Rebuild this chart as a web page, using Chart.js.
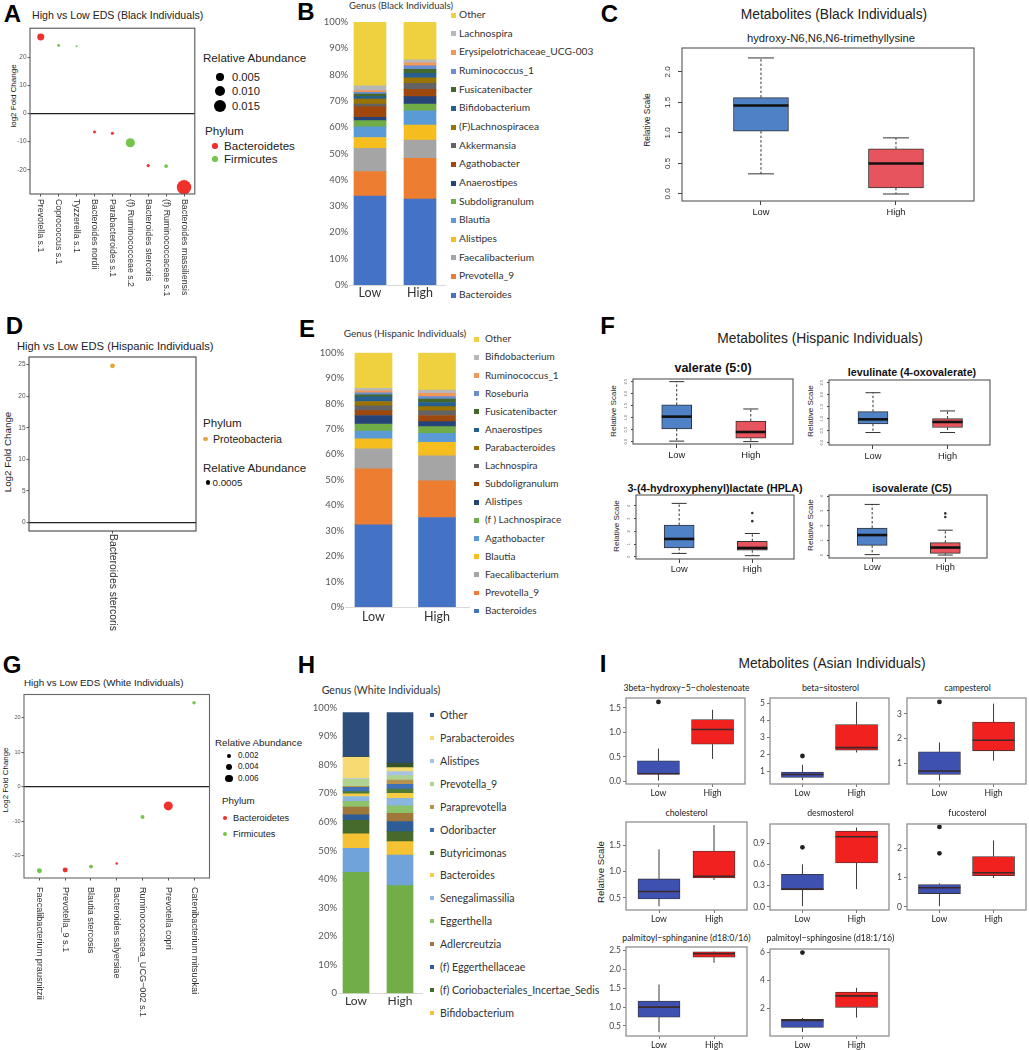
<!DOCTYPE html>
<html>
<head>
<meta charset="utf-8">
<script src="https://cdn.jsdelivr.net/npm/chart.js@4.4.1/dist/chart.umd.min.js"></script>
<style>
  body { margin: 0; background: #fff; }
  #page { position: relative; width: 1029px; height: 1050px; overflow: hidden; background: #fff;
          font-family: "Liberation Sans", Arial, sans-serif; }
  .abs { position: absolute; white-space: nowrap; line-height: 1.15; }
  canvas { position: absolute; }
</style>
</head>
<body>
<div id="page"></div>
<script>
// ---------- data ----------
const groups = ['Low', 'High'];

// A: High vs Low EDS, Black individuals
const aTaxa = ['Prevotella s.1', 'Coprococcus s.1', 'Tyzzerella s.1', 'Bacteroides nordii', 'Parabacteroides s.1',
  '(f) Ruminococceae s.2', 'Bacteroides stercoris', '(f) Ruminococcaceae s.1', 'Bacteroides massiliensis'];
const aLog2FC = [27.2, 24.2, 23.9, -6.6, -7.0, -10.4, -18.5, -18.7, -26.2];
const aAbund = [0.0045, 0.0008, 0.0004, 0.0008, 0.0009, 0.0078, 0.0009, 0.0012, 0.0192];
const aPhylum = ['Bacteroidetes', 'Firmicutes', 'Firmicutes', 'Bacteroidetes', 'Bacteroidetes',
  'Firmicutes', 'Bacteroidetes', 'Firmicutes', 'Bacteroidetes'];
const aYTicks = ['-20', '-10', '0', '10', '20'];
const aSizeBreaks = ['0.005', '0.010', '0.015'];

// D: Hispanic individuals
const dTaxa = ['Bacteroides stercoris'];
const dLog2FC = [24.8];
const dAbund = [0.0005];
const dPhylum = ['Proteobacteria'];
const dYTicks = ['0', '5', '10', '15', '20', '25'];
const dSizeBreaks = ['0.0005'];

// G: White individuals
const gTaxa = ['Faecalibacterium prausnitzii', 'Prevotella_9 s.1', 'Blautia stercosis', 'Bacteroides salyersiae',
  'Ruminococcacea_UCG\u2212002 s.1', 'Prevotella copri', 'Catenibacterium mitsuokai'];
const gLog2FC = [-24.3, -24.1, -23.1, -22.2, -8.7, -5.5, 24.4];
const gAbund = [0.0027, 0.0027, 0.0017, 0.0007, 0.0017, 0.0088, 0.0013];
const gPhylum = ['Firmicutes', 'Bacteroidetes', 'Firmicutes', 'Bacteroidetes', 'Firmicutes', 'Bacteroidetes', 'Firmicutes'];
const gYTicks = ['-20', '-10', '0', '10', '20'];
const gSizeBreaks = ['0.002', '0.004', '0.006'];

// B: genus composition, Black individuals (bottom -> top, %)
const bGenus = ['Bacteroides', 'Prevotella_9', 'Faecalibacterium', 'Alistipes', 'Blautia', 'Subdoligranulum',
  'Anaerostipes', 'Agathobacter', 'Akkermansia', '(F)Lachnospiracea', 'Bifidobacterium', 'Fusicatenibacter',
  'Ruminococcus_1', 'Erysipelotrichaceae_UCG-003', 'Lachnospira', 'Other'];
const bLow  = [33.8, 9.3, 8.9, 4.1, 4.0, 2.4, 1.3, 4.0, 1.0, 1.9, 0.9, 1.0, 0.7, 0.6, 1.8, 24.3];
const bHigh = [32.7, 15.5, 6.9, 5.7, 5.4, 2.6, 2.8, 2.8, 2.3, 2.1, 1.7, 1.5, 1.3, 1.2, 1.1, 14.4];

// E: genus composition, Hispanic individuals
const eGenus = ['Bacteroides', 'Prevotella_9', 'Faecalibacterium', 'Blautia', 'Agathobacter', '(f ) Lachnospirace',
  'Alistipes', 'Subdoligranulum', 'Lachnospira', 'Parabacteroides', 'Anaerostipes', 'Fusicatenibacter',
  'Roseburia', 'Ruminococcus_1', 'Bifidobacterium', 'Other'];
const eLow  = [32.3, 22.0, 7.9, 3.9, 3.1, 2.7, 3.4, 1.9, 1.9, 1.7, 1.8, 0.8, 0.8, 0.8, 1.0, 14.0];
const eHigh = [35.2, 14.4, 9.8, 5.4, 3.5, 2.6, 2.0, 2.4, 1.8, 1.7, 1.6, 1.4, 0.9, 1.3, 1.3, 14.7];

// H: genus composition, White individuals ('' = not named in the legend)
const hGenus = ['', '', 'Bifidobacterium', '(f) Coriobacteriales_Incertae_Sedis', '(f) Eggerthellaceae', 'Adlercreutzia',
  'Eggerthella', 'Senegalimassilia', 'Bacteroides', 'Butyricimonas', 'Odoribacter', 'Paraprevotella',
  'Prevotella_9', 'Alistipes', 'Parabacteroides', '', 'Other'];
const hLow  = [42.4, 8.4, 5.0, 4.8, 1.9, 2.7, 2.0, 1.7, 0.9, 0.8, 1.5, 0.4, 2.4, 0.3, 7.4, 0.2, 15.5];
const hHigh = [37.7, 10.7, 4.7, 3.5, 3.5, 2.9, 2.6, 2.7, 1.7, 1.5, 1.7, 1.5, 1.5, 1.4, 1.4, 1.5, 17.8];

const pctTicks = ['0%', '10%', '20%', '30%', '40%', '50%', '60%', '70%', '80%', '90%', '100%'];
const hPctTicks = ['0', '10%', '20%', '30%', '40%', '50%', '60%', '70%', '80%', '90%', '100%'];

// C: box stats [min, q1, median, q3, max]
const cName = 'hydroxy-N6,N6,N6-trimethyllysine';
const cLow  = [0.33, 1.03, 1.45, 1.58, 2.23];
const cHigh = [0.00, 0.10, 0.50, 0.74, 0.92];
const cYTicks = ['0.0', '0.5', '1.0', '1.5', '2.0'];

// F: Hispanic metabolites
const fNames = ['valerate (5:0)', 'levulinate (4-oxovalerate)', '3-(4-hydroxyphenyl)lactate (HPLA)', 'isovalerate (C5)'];
const fLow  = [[0.02, 0.53, 1.04, 1.53, 2.50], [0.42, 0.78, 0.97, 1.29, 2.08],
               [0.26, 0.69, 1.40, 2.50, 4.20], [0.03, 0.66, 1.36, 1.84, 3.44]];
const fHigh = [[0.00, 0.14, 0.40, 0.86, 1.36], [0.42, 0.63, 0.86, 1.00, 1.32],
               [0.08, 0.51, 0.69, 1.22, 1.83], [0.00, 0.11, 0.51, 0.84, 1.69]];
const fOutHigh = [[], [], [3.44, 2.80], [2.83, 2.59]];
const fYTicks = [['0.0', '0.5', '1.0', '1.5', '2.0', '2.5'], ['0.0', '0.5', '1.0', '1.5', '2.0', '2.5'],
                 ['0', '1', '2', '3', '4'], ['0', '1', '2', '3', '4']];

// I: Asian metabolites
const iNames = ['3beta\u2212hydroxy\u22125\u2212cholestenoate', 'beta\u2212sitosterol', 'campesterol', 'cholesterol',
  'desmosterol', 'fucosterol', 'palmitoyl\u2212sphinganine (d18:0/16)', 'palmitoyl\u2212sphingosine (d18:1/16)'];
const iLow  = [[0.02, 0.15, 0.16, 0.42, 0.67], [0.46, 0.62, 0.79, 0.94, 1.37], [0.29, 0.54, 0.68, 1.46, 1.84],
               [0.34, 0.48, 0.62, 0.86, 1.42], [0.01, 0.24, 0.25, 0.46, 0.60], [0.02, 0.45, 0.65, 0.76, 0.80],
               [0.33, 0.73, 1.00, 1.16, 1.60], [0.30, 0.62, 1.13, 1.20, 1.30]];
const iHigh = [[0.46, 0.76, 1.06, 1.26, 1.46], [2.10, 2.24, 2.39, 3.75, 5.10], [1.10, 1.50, 1.93, 2.67, 3.42],
               [0.84, 0.88, 0.91, 1.39, 1.88], [0.25, 0.62, 0.99, 1.07, 1.12], [0.98, 1.06, 1.16, 1.71, 2.26],
               [2.18, 2.33, 2.42, 2.47, 2.48], [1.33, 2.07, 2.89, 3.17, 3.47]];
const iOutLow = [[1.62], [1.89], [3.49], [], [0.84], [1.82, 2.72], [], [6.0]];
const iYTicks = [['0.0', '0.5', '1.0', '1.5'], ['1', '2', '3', '4', '5'], ['1', '2', '3'], ['0.5', '1.0', '1.5'],
                 ['0.0', '0.3', '0.6', '0.9'], ['0', '1', '2'], ['0.5', '1.0', '1.5', '2.0', '2.5'], ['2', '4', '6']];

// ---------- styles ----------
const phylumColors = { Bacteroidetes: '#F0302A', Firmicutes: '#74C54B', Proteobacteria: '#E9A33C' };
const officeColors = ['#4472C4', '#ED7D31', '#A5A5A5', '#F5BE1E', '#5B9BD5', '#70AD47', '#264478', '#9E480E',
  '#636363', '#997300', '#255E91', '#43682B', '#698ED0', '#F1975A', '#B7B7B7', '#EFD03E'];
const whiteColors = ['#72AE48', '#6FA3D9', '#F4C233', '#46692C', '#2E5C96', '#A0773A', '#8DC26A', '#8BB6E0',
  '#F6CD45', '#4E7A35', '#3F72B5', '#B8924F', '#AED392', '#A9C4E3', '#F5DB72', '#34532A', '#2D4E7C'];

Chart.defaults.font.family = '"Liberation Sans", Arial, sans-serif';
Chart.defaults.animation = false;
Chart.defaults.plugins.legend.display = false;
Chart.defaults.plugins.tooltip.enabled = false;

const page = document.getElementById('page');

function canvasAt(x, y, w, h) {
  const c = document.createElement('canvas');
  c.width = w; c.height = h;
  c.style.left = x + 'px'; c.style.top = y + 'px';
  c.style.width = w + 'px'; c.style.height = h + 'px';
  page.appendChild(c);
  return c;
}

function text(str, x, y, opt) {
  const o = Object.assign({ size: 10, anchor: 'left', rot: 0, color: '#222', weight: 'normal', family: null }, opt);
  const d = document.createElement('div');
  d.className = 'abs';
  d.textContent = str;
  d.style.fontSize = o.size + 'px';
  d.style.color = o.color;
  d.style.fontWeight = o.weight;
  if (o.family) d.style.fontFamily = o.family;
  d.style.left = x + 'px'; d.style.top = y + 'px';
  const tx = o.anchor === 'center' ? '-50%' : o.anchor === 'right' ? '-100%' : '0';
  d.style.transform = `translate(${tx}, -50%)` + (o.rot ? ` rotate(${o.rot}deg)` : '');
  page.appendChild(d);
}

function dot(x, y, r, color) {
  const d = document.createElement('div');
  d.style.cssText = `position:absolute;left:${x - r}px;top:${y - r}px;width:${2 * r}px;height:${2 * r}px;border-radius:50%;background:${color}`;
  page.appendChild(d);
}

function square(x, y, s, color) {
  const d = document.createElement('div');
  d.style.cssText = `position:absolute;left:${x}px;top:${y - s / 2}px;width:${s}px;height:${s}px;background:${color}`;
  page.appendChild(d);
}

function fixY(w) { return s => { s.width = w; s.paddingTop = 0; s.paddingBottom = 0; }; }
function fixX(h) { return s => { s.height = h; s.paddingLeft = 0; s.paddingRight = 0; }; }

function framePlugin(color, width) {
  return {
    id: 'frame',
    afterDatasetsDraw(chart) {
      const a = chart.chartArea, c = chart.ctx;
      c.save();
      c.strokeStyle = color; c.lineWidth = width;
      c.strokeRect(a.left, a.top, a.right - a.left, a.bottom - a.top);
      c.restore();
    }
  };
}

// ---------- bubble panels (A, D, G) ----------
function bubblePanel(o) {
  const n = o.taxa.length;
  const cv = canvasAt(o.cx, o.area.t - 2, o.area.r - o.cx + 2, o.cb - o.area.t + 2);
  const phyla = [...new Set(o.phylum)];
  const datasets = phyla.map(p => ({
    label: p,
    data: o.taxa.map((t, i) => ({ x: i, y: o.fold[i], r: o.radius(o.abund[i]), p: o.phylum[i] }))
      .filter(d => d.p === p),
    backgroundColor: phylumColors[p],
    borderWidth: 0
  }));
  const labels = {
    id: 'rotLabels',
    afterDraw(chart) {
      const c = chart.ctx, xs = chart.scales.x, b = chart.chartArea.bottom;
      c.save();
      c.font = `${o.labelSize}px "Liberation Sans", Arial`;
      c.fillStyle = '#333'; c.textAlign = 'left'; c.textBaseline = 'middle';
      o.taxa.forEach((t, i) => {
        c.save(); c.translate(xs.getPixelForValue(i), b + o.labelGap); c.rotate(Math.PI / 2);
        c.fillText(t, 0, 0); c.restore();
      });
      c.restore();
    }
  };
  new Chart(cv, {
    type: 'bubble',
    data: { datasets },
    options: {
      responsive: false,
      layout: { padding: { top: 2, right: 2 } },
      scales: {
        x: {
          type: 'linear', min: -0.6, max: n - 0.4,
          afterBuildTicks: s => { s.ticks = o.taxa.map((t, i) => ({ value: i })); },
          afterFit: fixX(o.cb - o.area.b),
          ticks: { display: false },
          grid: { drawOnChartArea: false, tickLength: 2.5, tickColor: '#555', tickWidth: 1 },
          border: { display: false }
        },
        y: {
          min: o.yMin, max: o.yMax,
          afterBuildTicks: s => { s.ticks = o.yTicks.map(t => ({ value: +t })); },
          afterFit: fixY(o.area.l - o.cx),
          ticks: { callback: (v, i) => o.yTicks[i], font: { size: o.tickSize }, color: '#555', padding: 1 },
          grid: {
            color: c => (c.tick && c.tick.value === 0) ? '#222' : 'rgba(0,0,0,0)',
            lineWidth: 1.2, tickLength: 2.5, tickColor: '#555', tickWidth: 1
          },
          border: { display: false }
        }
      }
    },
    plugins: [framePlugin(o.frame, 1.1), labels]
  });
}

// ---------- stacked composition panels (B, E, H) ----------
function stackPanel(o) {
  const cv = canvasAt(o.cx, o.ct, o.area.r - o.cx + 2, o.cb - o.ct);
  new Chart(cv, {
    type: 'bar',
    data: {
      datasets: o.names.map((nm, k) => ({
        label: nm, data: [{ x: 1, y: o.low[k] }, { x: 2, y: o.high[k] }],
        backgroundColor: o.colors[k], borderWidth: 0, barThickness: o.barW
      }))
    },
    options: {
      responsive: false,
      layout: { padding: { top: o.area.t - o.ct, right: 2 } },
      scales: {
        x: {
          type: 'linear', stacked: true, min: o.xMin, max: o.xMax, offset: false,
          afterBuildTicks: s => { s.ticks = [{ value: 1 }, { value: 2 }]; },
          afterFit: fixX(o.cb - o.area.b),
          grid: { display: false, drawTicks: false, offset: false },
          border: { display: true, color: '#d9d9d9', width: 1 },
          ticks: { callback: (v, i) => groups[i], font: { family: 'Lato', size: o.xFont }, color: '#333',
                   padding: o.xPad, maxRotation: 0 }
        },
        y: {
          stacked: true, min: 0, max: 100,
          afterBuildTicks: s => { s.ticks = o.yTicks.map(t => ({ value: parseFloat(t) })); },
          afterFit: fixY(o.area.l - o.cx),
          grid: { display: false, drawTicks: false },
          border: { display: false },
          ticks: { callback: (v, i) => o.yTicks[i], font: { family: 'Lato', size: 9.5 }, color: '#555', padding: 1.5 }
        }
      }
    }
  });
  let row = 0;
  for (let k = o.names.length - 1; k >= 0; k--) {
    if (!o.names[k]) continue;
    const y = o.leg.y0 + row * o.leg.dy;
    square(o.leg.sx, y, o.leg.sq, o.colors[k]);
    text(o.names[k], o.leg.tx, y, { size: o.leg.size, family: 'Lato', color: '#333' });
    row++;
  }
}

// ---------- box plot panels (C, F, I) ----------
const rStyle = {
  fill: ['#4F81C6', '#E8545E'], border: '#333', borderW: 1, whisker: '#333', whiskerW: 1, dash: [2.5, 2],
  capColor: '#333', medW: 2.6, medColor: '#111', frame: '#555', frameW: 1.1, tick: 4, tickColor: '#444',
  outR: 1.4, outColor: '#333', xFont: 9.3
};
const gStyle = {
  fill: ['#3F51B0', '#F0211F'], border: '#333', borderW: 0.8, whisker: '#3a3a3a', whiskerW: 1, dash: [],
  capColor: '#333', medW: 1.6, medColor: '#3a2a2a', frame: '#8f8f8f', frameW: 1.3, tick: 3, tickColor: '#777',
  outR: 2.4, outColor: '#222', xFont: 8.7
};

function boxPanel(o) {
  const st = o.style;
  const yw = o.yw, xh = o.xh;
  const cv = canvasAt(o.area.l - yw, o.area.t - 2, o.area.r - o.area.l + yw + 2, o.area.b - o.area.t + 2 + xh);
  const stats = [o.low, o.high];
  const datasets = [{
    type: 'bar',
    data: stats.map((s, i) => ({ x: i + 1, y: [s[1], s[3]] })),
    backgroundColor: st.fill, borderColor: st.border, borderWidth: st.borderW, borderSkipped: false,
    barThickness: o.boxW
  }];
  const outs = [];
  (o.outLow || []).forEach(v => outs.push({ x: 1, y: v }));
  (o.outHigh || []).forEach(v => outs.push({ x: 2, y: v }));
  if (outs.length) datasets.push({
    type: 'scatter', data: outs, pointRadius: o.outR || st.outR, pointBackgroundColor: st.outColor, pointBorderWidth: 0
  });
  const parts = {
    id: 'boxParts',
    beforeDatasetsDraw(chart) {
      const c = chart.ctx, y = chart.scales.y;
      chart.getDatasetMeta(0).data.forEach((el, i) => {
        const s = stats[i];
        c.save();
        c.strokeStyle = st.whisker; c.lineWidth = st.whiskerW; c.setLineDash(st.dash);
        c.beginPath();
        c.moveTo(el.x, y.getPixelForValue(s[3])); c.lineTo(el.x, y.getPixelForValue(s[4]));
        c.moveTo(el.x, y.getPixelForValue(s[1])); c.lineTo(el.x, y.getPixelForValue(s[0]));
        c.stroke();
        c.setLineDash([]);
        if (o.cap) {
          c.strokeStyle = st.capColor;
          c.beginPath();
          [s[0], s[4]].forEach(v => {
            const p = y.getPixelForValue(v);
            c.moveTo(el.x - o.cap / 2, p); c.lineTo(el.x + o.cap / 2, p);
          });
          c.stroke();
        }
        c.restore();
      });
    },
    afterDatasetsDraw(chart) {
      const c = chart.ctx, y = chart.scales.y;
      chart.getDatasetMeta(0).data.forEach((el, i) => {
        const p = y.getPixelForValue(stats[i][2]);
        c.save();
        c.strokeStyle = st.medColor; c.lineWidth = st.medW;
        c.beginPath(); c.moveTo(el.x - el.width / 2, p); c.lineTo(el.x + el.width / 2, p); c.stroke();
        c.restore();
      });
    },
    afterDraw(chart) {
      if (!o.rotTicks) return;
      const c = chart.ctx, ys = chart.scales.y, x = chart.chartArea.left - o.rotTicks.off;
      c.save();
      c.font = `${o.rotTicks.size}px "Liberation Sans", Arial`;
      c.fillStyle = o.rotTicks.color; c.textAlign = 'center'; c.textBaseline = 'middle';
      o.yTicks.forEach(t => {
        c.save(); c.translate(x, ys.getPixelForValue(+t)); c.rotate(-Math.PI / 2);
        c.fillText(t, 0, 0); c.restore();
      });
      c.restore();
    }
  };
  new Chart(cv, {
    type: 'bar',
    data: { datasets },
    options: {
      responsive: false,
      layout: { padding: { top: 2, right: 2 } },
      scales: {
        x: {
          type: 'linear', min: o.xMin, max: o.xMax, offset: false,
          afterBuildTicks: s => { s.ticks = [{ value: 1 }, { value: 2 }]; },
          afterFit: fixX(xh),
          ticks: { callback: (v, i) => groups[i], font: { size: st.xFont, family: o.xFamily || undefined },
                   color: '#222', padding: o.xPad === undefined ? 1 : o.xPad, maxRotation: 0 },
          grid: { drawOnChartArea: false, offset: false, tickLength: st.tick, tickColor: st.tickColor, tickWidth: 1 },
          border: { display: false }
        },
        y: {
          min: o.yMin, max: o.yMax,
          afterBuildTicks: s => { s.ticks = o.yTicks.map(t => ({ value: +t })); },
          afterFit: fixY(yw),
          ticks: o.rotTicks ? { display: false }
                            : { callback: (v, i) => o.yTicks[i], font: { size: 8.5, family: 'Lato' }, color: '#444', padding: 2 },
          grid: { drawOnChartArea: false, tickLength: o.yTick || st.tick, tickColor: st.tickColor, tickWidth: 1 },
          border: { display: false }
        }
      }
    },
    plugins: [parts, framePlugin(st.frame, st.frameW)]
  });
}

// ================= Panel A =================
text('A', 12.5, 14, { size: 24, weight: 'bold', anchor: 'center', color: '#000' });
text('High vs Low EDS (Black Individuals)', 32, 15, { size: 10.6, color: '#222' });
text('log2 Fold Change', 14, 96, { size: 8, anchor: 'center', rot: -90, color: '#111' });
const sizeA = v => 52 * Math.sqrt(v);
bubblePanel({ taxa: aTaxa, fold: aLog2FC, abund: aAbund, phylum: aPhylum, radius: sizeA,
  area: { l: 30, t: 23, r: 200, b: 194 }, cx: 0, cb: 310, yMin: -28.6, yMax: 30.3, yTicks: aYTicks,
  tickSize: 6.5, labelSize: 8.8, labelGap: 5, frame: '#555' });
text('Relative Abundance', 203, 58, { size: 11.6 });
aSizeBreaks.forEach((b, i) => {
  const y = [77, 91, 106][i];
  dot(220, y, sizeA(+b), '#000');
  text(b, 232, y, { size: 11.2 });
});
text('Phylum', 205, 131, { size: 11.6 });
['Bacteroidetes', 'Firmicutes'].forEach((p, i) => {
  const y = [146, 159][i];
  dot(215, y, 2.7, phylumColors[p]);
  text(p, 224, y, { size: 11.6 });
});

// ================= Panel B =================
text('B', 306, 11.5, { size: 24, weight: 'bold', anchor: 'center', color: '#000' });
text('Genus (Black Individuals)', 401, 6, { size: 9.6, anchor: 'center', family: 'Lato', color: '#333' });
stackPanel({ names: bGenus, low: bLow, high: bHigh, colors: officeColors,
  area: { l: 349.5, t: 22, r: 445, b: 285 }, cx: 318, ct: 12, cb: 302, xMin: 0.59, xMax: 2.5, barW: 32,
  yTicks: pctTicks, xFont: 12.5, xPad: 0.5,
  leg: { y0: 15, dy: 18.67, sx: 450.5, sq: 5, tx: 459, size: 10.2 } });

// ================= Panel C =================
text('C', 609.5, 13.5, { size: 24, weight: 'bold', anchor: 'center', color: '#000' });
text('Metabolites (Black Individuals)', 834, 15, { size: 13.8, anchor: 'center', color: '#222' });
text(cName, 831, 38, { size: 11.3, anchor: 'center', color: '#222' });
text('Relative Scale', 648, 120, { size: 8.4, anchor: 'center', rot: -90, color: '#222' });
boxPanel({ style: rStyle, area: { l: 682, t: 48, r: 974, b: 201 }, yw: 24, xh: 20,
  low: cLow, high: cHigh, yMin: -0.115, yMax: 2.393, yTicks: cYTicks, xMin: 0.415, xMax: 2.578,
  boxW: 55, cap: 26, rotTicks: { off: 14, size: 8, color: '#333' }, xPad: 1.4 });

// ================= Panel D =================
text('D', 14.5, 326, { size: 24, weight: 'bold', anchor: 'center', color: '#000' });
text('High vs Low EDS (Hispanic Individuals)', 17, 346, { size: 11.2, color: '#222' });
text('Log2 Fold Change', 8, 452, { size: 9.8, anchor: 'center', rot: -90, color: '#222' });
const sizeD = v => 110 * Math.sqrt(v);
bubblePanel({ taxa: dTaxa, fold: dLog2FC, abund: dAbund, phylum: dPhylum, radius: sizeD,
  area: { l: 29, t: 355, r: 198, b: 531 }, cx: 0, cb: 640, yMin: -1.36, yMax: 26.2, yTicks: dYTicks,
  tickSize: 6.5, labelSize: 10.4, labelGap: 3, frame: '#444' });
text('Phylum', 203, 423, { size: 11.6 });
text('Proteobacteria', 213, 439, { size: 10.6 });
dot(205.5, 439, 2.3, phylumColors.Proteobacteria);
text('Relative Abundance', 203, 468, { size: 11.6 });
dot(208, 482.5, sizeD(+dSizeBreaks[0]), '#000');
text(dSizeBreaks[0], 212.5, 482.5, { size: 9.8 });

// ================= Panel E =================
text('E', 307, 328.5, { size: 24, weight: 'bold', anchor: 'center', color: '#000' });
text('Genus (Hispanic Individuals)', 405, 334, { size: 10, anchor: 'center', family: 'Lato', color: '#333' });
stackPanel({ names: eGenus, low: eLow, high: eHigh, colors: officeColors,
  area: { l: 345.5, t: 352.7, r: 469, b: 607 }, cx: 315, ct: 343, cb: 626, xMin: 0.559, xMax: 2.504, barW: 37,
  yTicks: pctTicks, xFont: 12.5, xPad: 2.5,
  leg: { y0: 339.3, dy: 18.11, sx: 474, sq: 4.5, tx: 485, size: 10 } });

// ================= Panel F =================
text('F', 607.5, 325.5, { size: 24, weight: 'bold', anchor: 'center', color: '#000' });
text('Metabolites (Hispanic Individuals)', 820, 339, { size: 13.8, anchor: 'center', color: '#222' });
const fAreas = [{ l: 633, t: 379, r: 793, b: 444 }, { l: 829, t: 380, r: 990, b: 445 },
                { l: 636, t: 493, r: 796, b: 559 }, { l: 829, t: 493, r: 989, b: 558 }];
const fYRange = [[-0.1, 2.61], [-0.1, 2.61], [-0.18, 4.86], [-0.2, 4.08]];
const fTitlePos = [[713, 368, 12.5], [912, 372, 10.7], [715, 488, 10.7], [912, 488, 10.7]];
const fYLab = [[614, 411], [811, 411], [617, 526], [811, 525]];
const fXPad = [1.4, 1.4, 0.7, -0.4];
fNames.forEach((nm, k) => {
  text(nm, fTitlePos[k][0], fTitlePos[k][1], { size: fTitlePos[k][2], weight: 'bold', anchor: 'center', color: '#111' });
  text('Relative Scale', fYLab[k][0], fYLab[k][1], { size: 8.1, anchor: 'center', rot: -90, color: '#222' });
  boxPanel({ style: rStyle, area: fAreas[k], yw: 16, xh: 16,
    low: fLow[k], high: fHigh[k], outHigh: fOutHigh[k], yMin: fYRange[k][0], yMax: fYRange[k][1],
    yTicks: fYTicks[k], xMin: 0.41, xMax: 2.57, boxW: 30, cap: 15, yTick: 2, outR: 1.3,
    rotTicks: { off: 7.5, size: 4, color: '#666' }, xPad: fXPad[k] });
});

// ================= Panel G =================
text('G', 12, 665, { size: 24, weight: 'bold', anchor: 'center', color: '#000' });
text('High vs Low EDS (White Individuals)', 24, 683, { size: 9.8, color: '#222' });
text('Log2 Fold Change', 6, 780, { size: 7.9, anchor: 'center', rot: -90, color: '#111' });
const sizeG = v => 48 * Math.sqrt(v);
bubblePanel({ taxa: gTaxa, fold: gLog2FC, abund: gAbund, phylum: gPhylum, radius: sizeG,
  area: { l: 24, t: 692, r: 212, b: 878 }, cx: 0, cb: 1050, yMin: -26.4, yMax: 26.8, yTicks: gYTicks,
  tickSize: 5.5, labelSize: 9.1, labelGap: 9, frame: '#666' });
text('Relative Abundance', 215, 743, { size: 9.8 });
gSizeBreaks.forEach((b, i) => {
  const y = [755.7, 767.3, 778.7][i];
  dot(229, y, sizeG(+b), '#000');
  text(b, 238, y, { size: 8.2 });
});
text('Phylum', 222, 801, { size: 9.8 });
['Bacteroidetes', 'Firmicutes'].forEach((p, i) => {
  const y = [818, 834][i];
  dot(225, y, 2.2, phylumColors[p]);
  text(p, 233, y, { size: 9.2 });
});

// ================= Panel H =================
text('H', 306.5, 665, { size: 24, weight: 'bold', anchor: 'center', color: '#000' });
text('Genus (White Individuals)', 381, 690, { size: 10.6, anchor: 'center', family: 'Lato', color: '#333' });
stackPanel({ names: hGenus, low: hLow, high: hHigh, colors: whiteColors,
  area: { l: 338.5, t: 707.7, r: 422, b: 993.3 }, cx: 306, ct: 698, cb: 1012, xMin: 0.602, xMax: 2.5, barW: 26,
  yTicks: hPctTicks, xFont: 12, xPad: 0.2,
  leg: { y0: 715.3, dy: 22.87, sx: 429.5, sq: 4, tx: 440, size: 10.6 } });

// ================= Panel I =================
text('I', 603, 664, { size: 24, weight: 'bold', anchor: 'center', color: '#000' });
text('Metabolites (Asian Individuals)', 832, 664, { size: 13.8, anchor: 'center', color: '#222' });
text('Relative Scale', 601, 872, { size: 9.7, anchor: 'center', rot: -90, color: '#222' });
const iAreas = [
  { l: 626, t: 696, r: 747, b: 784 }, { l: 770, t: 696, r: 891, b: 784 }, { l: 907, t: 696, r: 1028, b: 784 },
  { l: 626, t: 822, r: 747, b: 910 }, { l: 770, t: 822, r: 891, b: 910 }, { l: 907, t: 822, r: 1028, b: 910 },
  { l: 626, t: 947, r: 747, b: 1036 }, { l: 770, t: 947, r: 891, b: 1036 }];
const iYRange = [[-0.05, 1.70], [0.23, 5.33], [0.15, 3.65], [0.27, 1.94], [-0.045, 1.17], [-0.11, 2.82],
                 [0.23, 2.60], [0.01, 6.26]];
const iTitleY = [688, 688, 688, 813, 813, 813, 938, 938];
iNames.forEach((nm, k) => {
  const a = iAreas[k];
  text(nm, (a.l + a.r) / 2, iTitleY[k], { size: 8.7, anchor: 'center', color: '#222', family: 'Lato' });
  boxPanel({ style: gStyle, area: a, yw: 28, xh: 16, low: iLow[k], high: iHigh[k], outLow: iOutLow[k],
    yMin: iYRange[k][0], yMax: iYRange[k][1], yTicks: iYTicks[k], xMin: 0.4, xMax: 2.6, boxW: 42, cap: 0,
    xFamily: 'Lato', xPad: 1 });
});
</script>
</body>
</html>
